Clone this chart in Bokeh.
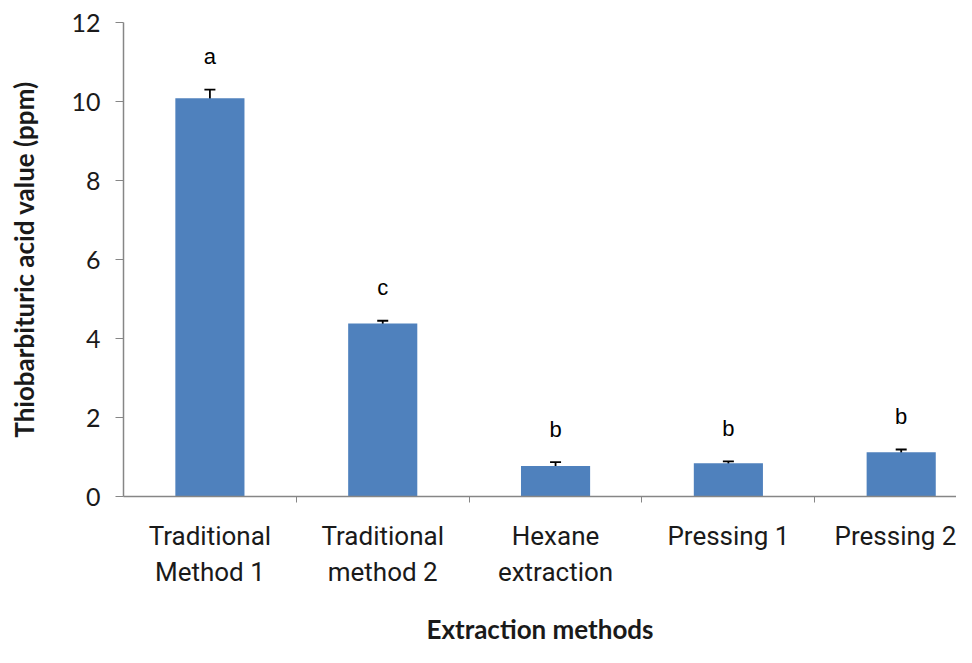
from bokeh.plotting import figure
from bokeh.models import ColumnDataSource, Range1d, FixedTicker, Whisker, TeeHead
from bokeh.core.properties import value
from bokeh.embed import file_html
from bokeh.resources import INLINE

categories = ["Traditional Method 1", "Traditional method 2", "Hexane extraction", "Pressing 1", "Pressing 2"]
tick_labels = ["Traditional\nMethod 1", "Traditional\nmethod 2", "Hexane\nextraction", "Pressing 1", "Pressing 2"]
tba_values = [10.08, 4.38, 0.77, 0.84, 1.12]
tba_errors = [0.22, 0.07, 0.10, 0.05, 0.07]
letters = ["a", "c", "b", "b", "b"]
y_ticks = [0, 2, 4, 6, 8, 10, 12]

xs = list(range(len(categories)))
source = ColumnDataSource(data=dict(
    x=xs,
    cat=categories,
    top=tba_values,
    upper=[v + e for v, e in zip(tba_values, tba_errors)],
    lower=[v - e for v, e in zip(tba_values, tba_errors)],
    letter=letters,
))

p = figure(width=956, height=647, output_backend="svg", toolbar_location=None,
           x_range=Range1d(-0.5, 4.32), y_range=Range1d(0, 12),
           min_border_left=123, min_border_top=22, min_border_bottom=150, min_border_right=0)

p.vbar(x="x", top="top", width=0.4, source=source, fill_color="#4F81BD", line_color=None)

whisker = Whisker(base="x", upper="upper", lower="lower", source=source,
                  line_color="black", line_width=1.8,
                  upper_head=TeeHead(size=11, line_color="black", line_width=1.8),
                  lower_head=TeeHead(size=11, line_color="black", line_width=1.8))
p.add_layout(whisker)

p.text(x="x", y="upper", text="letter", source=source, text_align="center",
       text_baseline="alphabetic", y_offset=-33, text_font=value("Liberation Sans"),
       text_font_size="22px", text_color="black")

p.outline_line_color = None
p.xgrid.grid_line_color = None
p.ygrid.grid_line_color = None
p.background_fill_color = "white"
p.border_fill_color = "white"

# x axis
xa = p.xaxis[0]
xa.ticker = FixedTicker(ticks=xs, minor_ticks=[i + 0.5 for i in xs])
xa.major_label_overrides = {i: lab for i, lab in zip(xs, tick_labels)}
xa.major_tick_out = 0
xa.major_tick_in = 0
xa.minor_tick_out = 6
xa.minor_tick_in = 0
xa.minor_tick_line_color = "#868686"
xa.axis_line_color = "#868686"
xa.axis_line_width = 1.5
xa.major_label_text_font = "Roboto"
xa.major_label_text_font_size = "26px"
xa.major_label_text_color = "#1a1a1a"
xa.major_label_standoff = 18
xa.axis_label = "Extraction methods"
xa.axis_label_text_font = "Lato"
xa.axis_label_text_font_style = "bold"
xa.axis_label_text_font_size = "26px"
xa.axis_label_text_color = "#1a1a1a"
xa.axis_label_standoff = 23

# y axis
ya = p.yaxis[0]
ya.ticker = FixedTicker(ticks=y_ticks, minor_ticks=[])
ya.major_tick_out = 8
ya.major_tick_in = 0
ya.major_tick_line_color = "#868686"
ya.axis_line_color = "#868686"
ya.axis_line_width = 1.5
ya.major_label_text_font = "Lato"
ya.major_label_text_font_size = "25px"
ya.major_label_text_color = "#1a1a1a"
ya.major_label_standoff = 15
ya.axis_label = "Thiobarbituric acid value (ppm)"
ya.axis_label_text_font = "Lato"
ya.axis_label_text_font_style = "bold"
ya.axis_label_text_font_size = "26px"
ya.axis_label_text_color = "#1a1a1a"
ya.axis_label_standoff = 28

open("out.html", "w").write(file_html(p, INLINE))
